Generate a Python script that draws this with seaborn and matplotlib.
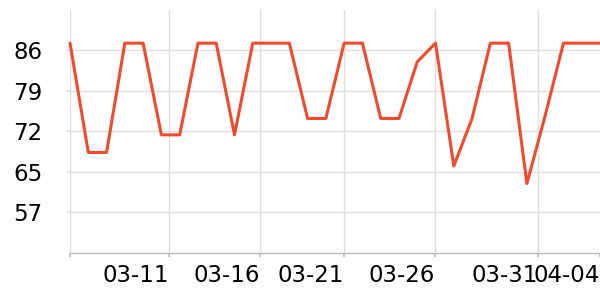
import numpy as np
import pandas as pd
import matplotlib
matplotlib.use("Agg")
import matplotlib.pyplot as plt
import seaborn as sns

# ---- data ----
dates = ["03-06", "03-07", "03-08", "03-09", "03-10", "03-11", "03-12", "03-13",
         "03-14", "03-15", "03-16", "03-17", "03-18", "03-19", "03-20", "03-21",
         "03-22", "03-23", "03-24", "03-25", "03-26", "03-27", "03-28", "03-29",
         "03-30", "03-31", "04-01", "04-02", "04-03", "04-04"]
values = [87, 67.7, 67.7, 87, 87, 70.8, 70.8, 87, 87, 70.8, 87, 87, 87, 73.7, 73.7, 87,
          87, 73.7, 73.7, 83.7, 87, 65.3, 73.7, 87, 87, 62.2, 74.2, 87, 87, 87]
x_tick_labels = ["", "03-11", "03-16", "03-21", "03-26", "03-31", "04-04"]
y_tick_labels = ["57", "65", "72", "79", "86"]

# ---- styling ----
sns.set_theme(style="white")
plt.rcParams['font.family'] = ['DejaVu Sans']

fig = plt.figure(figsize=(6, 3), dpi=100)
ax = fig.add_axes([0.1167, 0.158, 0.8833, 0.8087])

df = pd.DataFrame({"idx": np.arange(len(dates)), "value": values, "date": dates})
sns.lineplot(data=df, x="idx", y="value", ax=ax, color="#ef4b2c",
             linewidth=2.2, clip_on=False)

ax.set_xlim(0, len(dates) - 1)
ax.set_ylim(50, 92.86)

# x ticks (positions in index units, as seen on reference axis)
x_tick_pos = [0, 5.44, 10.39, 15.0, 19.97, 25.6, 29]
ax.set_xticks(x_tick_pos)
ax.set_xticklabels(x_tick_labels, fontsize=16.5, color="black")
for lbl in ax.get_xticklabels():
    lbl.set_horizontalalignment("right")

y_tick_pos = [57.14, 64.29, 71.43, 78.57, 85.71]
ax.set_yticks(y_tick_pos)
ax.set_yticklabels(y_tick_labels, fontsize=16.5, color="black")

ax.set_xlabel("")
ax.set_ylabel("")

ax.grid(True, color="#dddddd", linewidth=1.0)
ax.set_axisbelow(True)
ax.xaxis.get_gridlines()[-1].set_visible(False)

for s in ["top", "right", "left"]:
    ax.spines[s].set_visible(False)
ax.spines["bottom"].set_color("#bbbbbb")
ax.spines["bottom"].set_linewidth(1.0)

ax.tick_params(axis="x", length=3, color="#bbbbbb", pad=5, bottom=True)
ax.tick_params(axis="y", length=2, color="#dddddd", pad=18, left=True)

fig.savefig("out.png", dpi=100)
